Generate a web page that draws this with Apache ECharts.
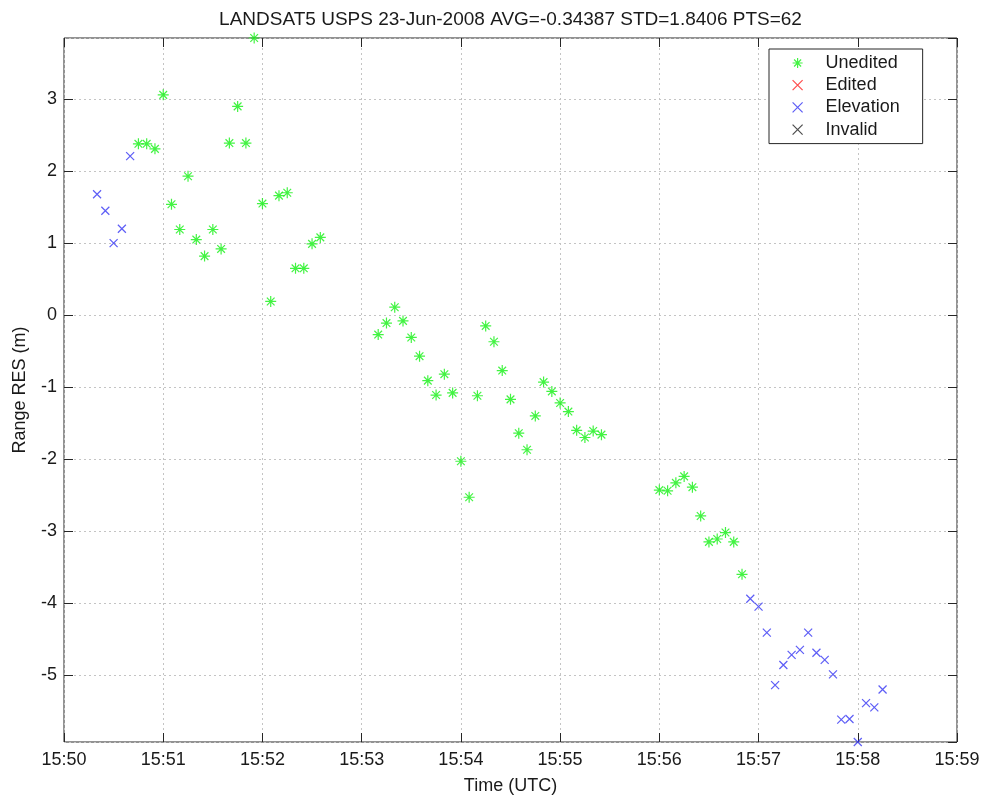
<!DOCTYPE html>
<html>
<head>
<meta charset="utf-8">
<title>LANDSAT5 USPS range residuals</title>
<script src="https://cdn.jsdelivr.net/npm/echarts@6/dist/echarts.min.js"></script>
<style>
  html, body { margin: 0; padding: 0; background: #ffffff; }
  #chart { width: 987px; height: 804px; }
</style>
</head>
<body>
<div id="chart"></div>
<script>
// ---- data -------------------------------------------------------------
const titleText = 'LANDSAT5 USPS 23-Jun-2008 AVG=-0.34387 STD=1.8406 PTS=62';
const xTickLabels = ['15:50', '15:51', '15:52', '15:53', '15:54', '15:55', '15:56', '15:57', '15:58', '15:59'];
const axisStart = '15:50:00';
const axisEnd = '15:59:00';

// accepted range residuals (m)
const uneditedTimes = [
  '15:50:45', '15:50:50', '15:50:55', '15:51:00', '15:51:05', '15:51:10', '15:51:15', '15:51:20',
  '15:51:25', '15:51:30', '15:51:35', '15:51:40', '15:51:45', '15:51:50', '15:51:55', '15:52:00',
  '15:52:05', '15:52:10', '15:52:15', '15:52:20', '15:52:25', '15:52:30', '15:52:35',
  '15:53:10', '15:53:15', '15:53:20', '15:53:25', '15:53:30', '15:53:35', '15:53:40', '15:53:45',
  '15:53:50', '15:53:55', '15:54:00', '15:54:05', '15:54:10', '15:54:15', '15:54:20', '15:54:25',
  '15:54:30', '15:54:35', '15:54:40', '15:54:45', '15:54:50', '15:54:55', '15:55:00', '15:55:05',
  '15:55:10', '15:55:15', '15:55:20', '15:55:25',
  '15:56:00', '15:56:05', '15:56:10', '15:56:15', '15:56:20', '15:56:25', '15:56:30', '15:56:35',
  '15:56:40', '15:56:45', '15:56:50'
];
const uneditedRes = [
  2.38, 2.38, 2.31, 3.06, 1.54, 1.19, 1.93, 1.05,
  0.82, 1.19, 0.92, 2.39, 2.90, 2.39, 3.85, 1.55,
  0.19, 1.66, 1.70, 0.65, 0.65, 0.99, 1.08,
  -0.27, -0.11, 0.11, -0.08, -0.31, -0.57, -0.91, -1.11,
  -0.82, -1.08, -2.03, -2.53, -1.12, -0.15, -0.37, -0.77,
  -1.17, -1.64, -1.87, -1.40, -0.93, -1.06, -1.22, -1.34,
  -1.60, -1.70, -1.61, -1.66,
  -2.43, -2.44, -2.33, -2.24, -2.39, -2.79, -3.15, -3.11,
  -3.02, -3.15, -3.60
];

// points rejected by the edit criteria (none in this pass)
const editedTimes = [];
const editedRes = [];

// points below the elevation mask
const elevationTimes = [
  '15:50:20', '15:50:25', '15:50:30', '15:50:35', '15:50:40',
  '15:56:55', '15:57:00', '15:57:05', '15:57:10', '15:57:15', '15:57:20', '15:57:25', '15:57:30',
  '15:57:35', '15:57:40', '15:57:45', '15:57:50', '15:57:55', '15:58:00', '15:58:05', '15:58:10',
  '15:58:15'
];
const elevationRes = [
  1.68, 1.45, 1.00, 1.20, 2.21,
  -3.94, -4.05, -4.41, -5.14, -4.86, -4.72, -4.65, -4.41,
  -4.69, -4.79, -4.99, -5.62, -5.61, -5.93, -5.39, -5.45,
  -5.20
];

// invalid measurements (none in this pass)
const invalidTimes = [];
const invalidRes = [];

// ---- helpers ----------------------------------------------------------
function toSeconds(hms) {
  const p = hms.split(':').map(Number);
  return p[0] * 3600 + p[1] * 60 + p[2];
}
const t0 = toSeconds(axisStart);
const tSpan = toSeconds(axisEnd) - t0;
function pairs(times, values) {
  return times.map((t, i) => [toSeconds(t) - t0, values[i]]);
}

// the residual axis is fitted tightly to the data
const allRes = uneditedRes.concat(editedRes, elevationRes, invalidRes);
const yMin = Math.min.apply(null, allRes);
const yMax = Math.max.apply(null, allRes);

const FONT = '"Liberation Sans", Arial, Helvetica, sans-serif';
const INK = '#1a1a1a';
const BOX = '#262626';
const GREEN = '#14f014';
const RED = '#ff2020';
const BLUE = '#3434f4';
const BLACK = '#202020';

const ASTERISK = 'path://M5,0L5,10M0,5L10,5M1.5,1.5L8.5,8.5M1.5,8.5L8.5,1.5';
const CROSS = 'path://M0,0L10,10M0,10L10,0';

function markerStyle(color) {
  return { color: 'transparent', borderColor: color, borderWidth: 1.2 };
}

function scatter(name, data, symbol, size, color) {
  return {
    name: name,
    type: 'scatter',
    data: data,
    symbol: symbol,
    symbolSize: size,
    itemStyle: markerStyle(color),
    emphasis: { disabled: true },
    silent: true,
    animation: false
  };
}

const noLine = { show: false, onZero: false };
const tickStyle = { inside: true, length: 9, lineStyle: { color: BOX, width: 1 } };
const gridLine = { show: true, lineStyle: { color: '#c4c4c4', width: 1, type: [2, 3] } };
const labelFont = { fontFamily: FONT, fontSize: 18, color: INK };

const chart = echarts.init(document.getElementById('chart'), null, { renderer: 'canvas' });
chart.setOption({
  backgroundColor: '#ffffff',
  animation: false,
  graphic: [{
    type: 'text',
    x: 510.5,
    y: 10,
    style: { text: titleText, fill: INK, font: '19px ' + FONT, align: 'center', verticalAlign: 'top' }
  }],
  grid: {
    left: 64, top: 38, width: 893, height: 704,
    show: true, borderColor: BOX, borderWidth: 1, backgroundColor: '#ffffff'
  },
  legend: {
    orient: 'vertical',
    left: 769, top: 49,
    padding: [5, 23, 5, 23],
    itemGap: 4.2,
    itemWidth: 46, itemHeight: 10,
    backgroundColor: '#ffffff',
    borderColor: BOX, borderWidth: 1, borderRadius: 0,
    selectedMode: false,
    textStyle: labelFont,
    data: [
      { name: 'Unedited', icon: ASTERISK, itemStyle: markerStyle(GREEN) },
      { name: 'Edited', icon: CROSS, itemStyle: markerStyle(RED) },
      { name: 'Elevation', icon: CROSS, itemStyle: markerStyle(BLUE) },
      { name: 'Invalid', icon: CROSS, itemStyle: markerStyle(BLACK) }
    ]
  },
  xAxis: [{
    type: 'value',
    position: 'bottom',
    min: 0, max: tSpan, interval: 60,
    axisLine: noLine,
    axisTick: tickStyle,
    axisLabel: Object.assign({ margin: 9, formatter: v => xTickLabels[Math.round(v / 60)] || '' }, labelFont),
    splitLine: gridLine,
    name: 'Time (UTC)',
    nameLocation: 'middle',
    nameGap: 35,
    nameTextStyle: labelFont
  }, {
    type: 'value',
    position: 'top',
    min: 0, max: tSpan, interval: 60,
    axisLine: noLine,
    axisTick: tickStyle,
    axisLabel: { show: false },
    splitLine: { show: false }
  }],
  yAxis: [{
    type: 'value',
    position: 'left',
    min: yMin, max: yMax, splitNumber: 10,
    axisLine: noLine,
    axisTick: tickStyle,
    axisLabel: Object.assign({
      margin: 7,
      showMinLabel: false, showMaxLabel: false,
      formatter: v => (Math.abs(v - Math.round(v)) < 1e-9 ? String(Math.round(v)) : '')
    }, labelFont),
    splitLine: gridLine,
    name: 'Range RES (m)',
    nameLocation: 'middle',
    nameGap: 35,
    nameTextStyle: labelFont
  }, {
    type: 'value',
    position: 'right',
    min: yMin, max: yMax, splitNumber: 10,
    axisLine: noLine,
    axisTick: tickStyle,
    axisLabel: { show: false },
    splitLine: { show: false }
  }],
  series: [
    scatter('Unedited', pairs(uneditedTimes, uneditedRes), ASTERISK, 11, GREEN),
    scatter('Edited', pairs(editedTimes, editedRes), CROSS, 8, RED),
    scatter('Elevation', pairs(elevationTimes, elevationRes), CROSS, 8, BLUE),
    scatter('Invalid', pairs(invalidTimes, invalidRes), CROSS, 8, BLACK)
  ]
});
</script>
</body>
</html>
